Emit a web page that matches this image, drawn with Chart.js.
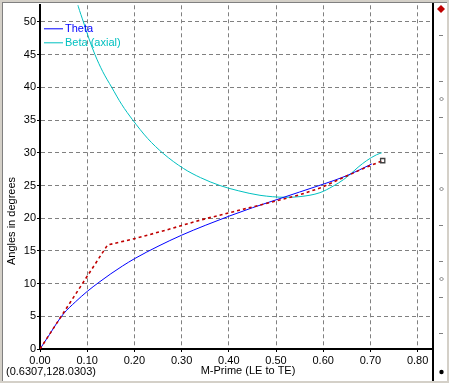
<!DOCTYPE html>
<html>
<head>
<meta charset="utf-8">
<style>
  html, body { margin: 0; padding: 0; background: #ffffff; }
  #wrap { width: 449px; height: 383px; }
  canvas { display: block; }
</style>
<script src="https://cdn.jsdelivr.net/npm/chart.js@4/dist/chart.umd.min.js"></script>
</head>
<body>
<div id="wrap"><canvas id="c" width="449" height="383"></canvas></div>
<script>
// ---- data ----
const seriesNames = ["Theta", "Beta (axial)", "Mean line"];

const thetaM   = [0, 0.02, 0.035, 0.05, 0.075, 0.10, 0.125, 0.15, 0.175, 0.20, 0.25, 0.30, 0.35, 0.40, 0.45, 0.50, 0.55, 0.60, 0.65, 0.703];
const thetaDeg = [0, 2.2, 3.9, 5.4, 7.2, 8.8, 10.2, 11.5, 12.7, 13.8, 15.7, 17.4, 18.9, 20.3, 21.6, 22.8, 24.0, 25.2, 26.5, 28.3];

const betaM   = [0.075, 0.081, 0.092, 0.104, 0.1165, 0.133, 0.152, 0.173, 0.196, 0.228, 0.261, 0.304, 0.34, 0.381, 0.42, 0.466, 0.52, 0.551, 0.593, 0.621, 0.643, 0.657, 0.674, 0.692, 0.713, 0.724];
const betaDeg = [54.0, 52.4, 50.0, 47.4, 45.0, 42.4, 40.0, 37.4, 35.06, 32.2, 29.9, 27.6, 26.2, 25.0, 24.2, 23.5, 23.2, 23.3, 23.9, 24.9, 25.9, 26.7, 27.8, 28.8, 29.7, 30.0];

const lineM   = [0, 0.143, 0.202, 0.268, 0.339, 0.41, 0.466, 0.551, 0.593, 0.621, 0.685, 0.726];
const lineDeg = [0, 15.9, 16.9, 18.2, 19.7, 21.0, 22.0, 23.6, 24.6, 25.5, 27.6, 28.8];

const xTickStep = 0.1;
const yTickStep = 5;
const xMax = 0.8326;
const yMax = 52.55;

const xTitle = "M-Prime (LE to TE)";
const yTitle = "Angles in degrees";
const cursorText = "(0.6307,128.0303)";

// ---- helpers ----
const pts = (xs, ys) => xs.map((x, i) => ({ x: x, y: ys[i] }));
const FONT = '"Liberation Sans", Arial, sans-serif';

const framePlugin = {
  id: 'frame',
  beforeDraw(chart) {
    const ctx = chart.ctx;
    const W = chart.width, H = chart.height;
    ctx.save();
    ctx.fillStyle = '#d4d0c8';
    ctx.fillRect(0, 0, W, H);
    ctx.fillStyle = '#ffffff';
    ctx.fillRect(3, 3, W - 5, H - 5);
    ctx.fillStyle = '#808080';
    ctx.fillRect(2, 2, 1, H - 4);
    ctx.fillRect(2, 2, W - 4, 1);
    ctx.restore();
  },
  afterDraw(chart) {
    const ctx = chart.ctx;
    const a = chart.chartArea;
    ctx.save();
    // right black axis line
    ctx.fillStyle = '#000000';
    ctx.fillRect(a.right - 1, 3, 2, chart.height - 5);

    // right strip decorations
    const sx = a.right + 8;
    ctx.strokeStyle = '#808080';
    ctx.lineWidth = 1;
    [35, 81, 117, 153, 225, 261, 297, 333].forEach(y => {
      ctx.beginPath(); ctx.moveTo(sx - 2, y + 0.5); ctx.lineTo(sx + 2, y + 0.5); ctx.stroke();
    });
    // red diamond at top
    ctx.fillStyle = '#c00000';
    ctx.beginPath();
    ctx.moveTo(sx, 5); ctx.lineTo(sx + 4, 9); ctx.lineTo(sx, 13); ctx.lineTo(sx - 4, 9); ctx.closePath(); ctx.fill();
    // small outline diamonds
    ctx.strokeStyle = '#808080';
    [99, 189, 279].forEach(y => {
      ctx.beginPath();
      ctx.moveTo(sx + 0.5, y - 2); ctx.lineTo(sx + 2.5, y); ctx.lineTo(sx + 0.5, y + 2); ctx.lineTo(sx - 1.5, y); ctx.closePath(); ctx.stroke();
    });
    // black dot at bottom
    ctx.fillStyle = '#000000';
    ctx.beginPath(); ctx.arc(sx + 0.5, 372, 2.2, 0, Math.PI * 2); ctx.fill();

    // legend inside plot, top-left
    ctx.font = '11px ' + FONT;
    ctx.textBaseline = 'middle';
    ctx.textAlign = 'left';
    const legendItems = [0, 1];
    legendItems.forEach((di, k) => {
      const ds = chart.data.datasets[di];
      const y = a.top + 23 + k * 14;
      ctx.strokeStyle = ds.borderColor;
      ctx.lineWidth = 1;
      ctx.beginPath(); ctx.moveTo(a.left + 4, y + 0.5); ctx.lineTo(a.left + 23, y + 0.5); ctx.stroke();
      ctx.fillStyle = ds.borderColor;
      ctx.fillText(ds.label, a.left + 25, y + 1);
    });

    // axis titles
    ctx.fillStyle = '#000000';
    ctx.textAlign = 'center';
    ctx.fillText(xTitle, 248, 371);
    ctx.save();
    ctx.translate(12, 221);
    ctx.rotate(-Math.PI / 2);
    ctx.fillText(yTitle, 0, 0);
    ctx.restore();

    // cursor coordinate readout
    ctx.textAlign = 'left';
    ctx.fillText(cursorText, 6, 372);
    ctx.restore();
  }
};

const lastIdx = lineM.length - 1;

new Chart(document.getElementById('c'), {
  type: 'scatter',
  data: {
    datasets: [
      {
        label: seriesNames[0],
        data: pts(thetaM, thetaDeg),
        showLine: true,
        borderColor: '#0000ff',
        backgroundColor: '#0000ff',
        borderWidth: 1,
        pointRadius: 0,
        cubicInterpolationMode: 'monotone',
        order: 2
      },
      {
        label: seriesNames[1],
        data: pts(betaM, betaDeg),
        showLine: true,
        borderColor: '#00c0c0',
        backgroundColor: '#00c0c0',
        borderWidth: 1,
        pointRadius: 0,
        cubicInterpolationMode: 'monotone',
        order: 3
      },
      {
        label: seriesNames[2],
        data: pts(lineM, lineDeg),
        showLine: true,
        borderColor: '#c00000',
        backgroundColor: '#ffffff',
        borderWidth: 1.6,
        borderDash: [3, 3],
        tension: 0,
        pointStyle: 'rect',
        pointRadius: ctx => ctx.dataIndex === lastIdx ? 3 : 0,
        pointBorderColor: '#404040',
        pointBackgroundColor: 'rgba(255,255,255,0)',
        pointBorderWidth: 1.3,
        order: 1
      }
    ]
  },
  options: {
    responsive: false,
    devicePixelRatio: 1,
    animation: false,
    events: [],
    layout: { padding: { left: 0, top: 3, right: 16, bottom: 0 } },
    plugins: {
      legend: { display: false },
      tooltip: { enabled: false }
    },
    scales: {
      x: {
        type: 'linear',
        min: 0,
        max: xMax,
        afterFit: s => { s.height = 34; s.paddingLeft = 0; s.paddingRight = 0; },
        border: { display: true, color: '#000000', width: 2, dash: [4, 3] },
        grid: {
          color: '#808080',
          lineWidth: 1,
          drawTicks: true,
          tickLength: 3,
          tickColor: '#000000',
          tickBorderDash: [],
          tickWidth: 1
        },
        ticks: {
          stepSize: xTickStep,
          includeBounds: false,
          maxRotation: 0,
          autoSkip: false,
          padding: 2,
          color: '#000000',
          font: { family: FONT, size: 11 },
          callback: v => Number(v).toFixed(2)
        }
      },
      y: {
        type: 'linear',
        min: 0,
        max: yMax,
        afterFit: s => { s.width = 40; s.paddingTop = 0; s.paddingBottom = 0; },
        border: { display: true, color: '#000000', width: 2, dash: [4, 3] },
        grid: {
          color: '#808080',
          lineWidth: 1,
          drawTicks: true,
          tickLength: 3,
          tickColor: '#000000',
          tickBorderDash: [],
          tickWidth: 1
        },
        ticks: {
          stepSize: yTickStep,
          includeBounds: false,
          autoSkip: false,
          padding: 1,
          color: '#000000',
          font: { family: FONT, size: 11 },
          callback: v => String(v)
        }
      }
    }
  },
  plugins: [framePlugin]
});
</script>
</body>
</html>
